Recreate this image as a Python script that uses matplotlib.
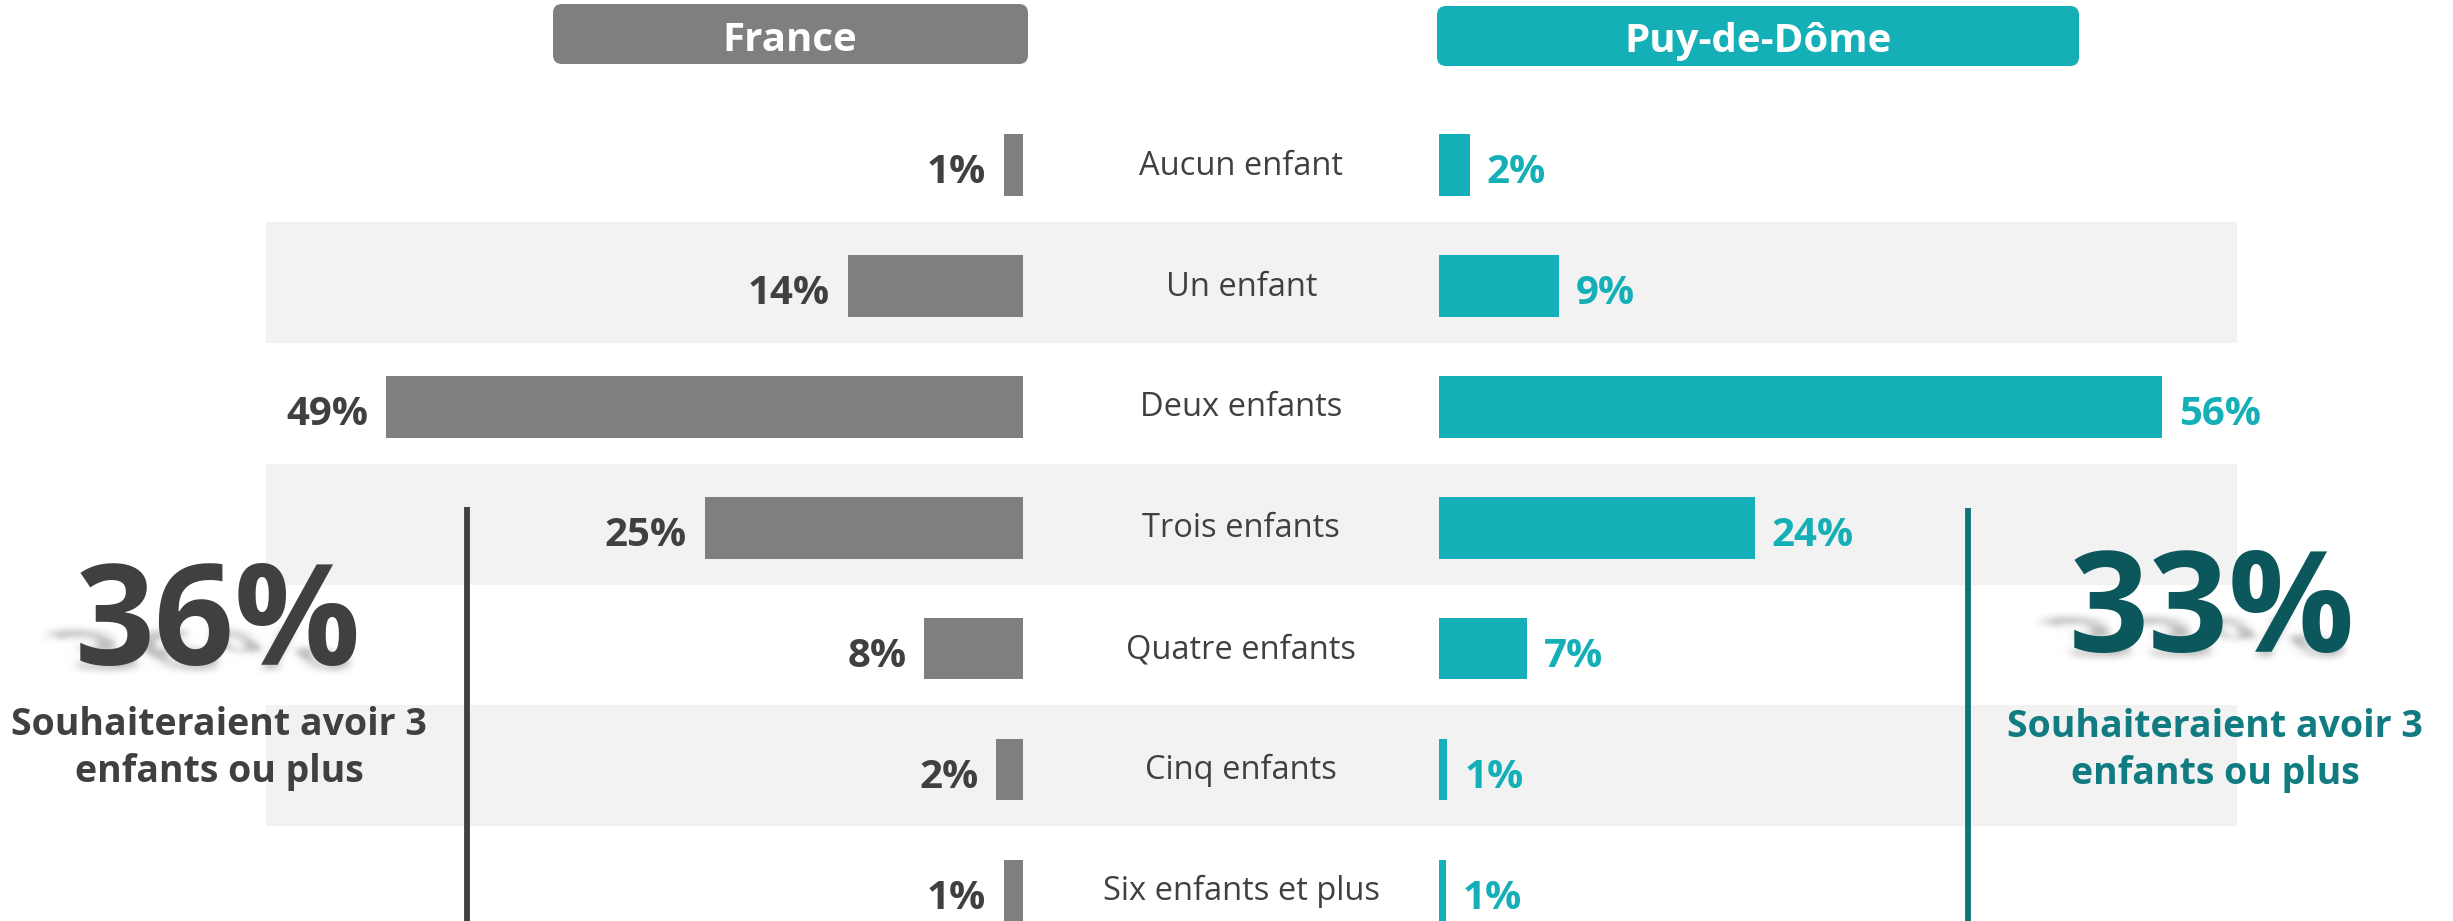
import matplotlib
matplotlib.use("Agg")
import matplotlib.pyplot as plt
import numpy as np
from matplotlib.patches import FancyBboxPatch, PathPatch
from matplotlib.textpath import TextPath
from matplotlib.font_manager import FontProperties
from matplotlib.transforms import Affine2D

plt.rcParams['font.family'] = ['Open Sans', 'DejaVu Sans']

# data
categories = ["Aucun enfant", "Un enfant", "Deux enfants", "Trois enfants",
              "Quatre enfants", "Cinq enfants", "Six enfants et plus"]
france = [1.5, 13.5, 49.0, 24.5, 7.6, 2.05, 1.5]
france_labels = ["1%", "14%", "49%", "25%", "8%", "2%", "1%"]
puy = [2.35, 9.2, 55.65, 24.3, 6.75, 0.65, 0.5]
puy_labels = ["2%", "9%", "56%", "24%", "7%", "1%", "1%"]
groups = ["France", "Puy-de-Dôme"]
totals = ["36%", "33%"]
total_lines = ["Souhaiteraient avoir 3", "enfants ou plus"]

GREY = '#7f7f7f'
DARK = '#404040'
TEAL = '#14afb7'
TEAL_DARK = '#0b575c'
TEAL_MID = '#107b80'
BAND = '#f2f2f2'

W, H = 2453, 921
PX = 13.0      # pixels per percent
ROW = 120.9    # pixels per row
MID = 1231     # centre of the chart in pixels
GAP = 16       # half gap between the two sides, in percent units
TOP = 165      # first row centre in pixels

fig = plt.figure(figsize=(W / 100, H / 100), dpi=100)
ax = fig.add_axes([0, 0, 1, 1])
ax.set_xlim(-MID / PX, (W - MID) / PX)
ax.set_ylim((H - TOP) / ROW, -TOP / ROW)
ax.axis('off')

y = np.arange(len(categories))
f = np.array(france)
p = np.array(puy)

# alternating bands
band_rows = y[1::2]
ax.barh(band_rows - 0.03, [(2237 - 266) / PX] * len(band_rows), left=(266 - MID) / PX,
        height=1.0, color=BAND, zorder=0)

ax.barh(y, -f, left=-GAP, height=0.51, color=GREY, zorder=2)
ax.barh(y, p, left=GAP, height=0.51, color=TEAL, zorder=2)

for i in y:
    ax.text(-GAP - f[i] - 1.35, i + 0.15, france_labels[i], ha='right', va='baseline',
            fontsize=29, fontweight='bold', color=DARK)
    ax.text(GAP + p[i] + 1.3, i + 0.15, puy_labels[i], ha='left', va='baseline',
            fontsize=29, fontweight='bold', color=TEAL)
    ax.text(0.8, i + 0.08, categories[i], ha='center', va='baseline',
            fontsize=23.5, color=DARK)

# overlay in pixel coordinates for headers and totals
ov = fig.add_axes([0, 0, 1, 1])
ov.set_xlim(0, W)
ov.set_ylim(H, 0)
ov.axis('off')
ov.patch.set_visible(False)

ov.add_patch(FancyBboxPatch((553, 4), 475, 60, boxstyle="round,pad=0,rounding_size=9",
                            fc=GREY, ec='none'))
ov.add_patch(FancyBboxPatch((1437, 6), 642, 60, boxstyle="round,pad=0,rounding_size=9",
                            fc=TEAL, ec='none'))
ov.text(790, 51, groups[0], ha='center', va='baseline', fontsize=29,
        fontweight='bold', color='white')
ov.text(1758, 52, groups[1], ha='center', va='baseline', fontsize=29,
        fontweight='bold', color='white')

ov.plot([467, 467], [507, H], color=DARK, lw=4.2, solid_capstyle='butt')
ov.plot([1968, 1968], [508, H], color='#0f7479', lw=4.2, solid_capstyle='butt')


def blur(img, dpi, sigma=4):
    pad = int(3 * sigma)
    xs = np.arange(-pad, pad + 1)
    k = np.exp(-xs ** 2 / (2 * sigma ** 2))
    k /= k.sum()
    out = np.pad(img, ((pad, pad), (pad, pad), (0, 0)))
    out = np.apply_along_axis(np.convolve, 0, out, k, mode='same')
    out = np.apply_along_axis(np.convolve, 1, out, k, mode='same')
    return out, -pad, -pad


def shadow(cx, base, txt, size):
    tp = TextPath((0, 0), txt, size=size * 100 / 72,
                  prop=FontProperties(family='Open Sans', weight='bold'))
    bb = tp.get_extents()
    tr = (Affine2D().translate(-(bb.x0 + bb.x1) / 2, 0).scale(1, 0.34)
          .skew_deg(-48, 0).translate(cx, H - base))
    sh = PathPatch(tp, transform=tr, fc='#7f7f7f', ec='none', alpha=0.55, zorder=1)
    sh.set_agg_filter(blur)
    ov.add_artist(sh)


BIG = 101
shadow(218, 667, totals[0], BIG)
shadow(2212, 654, totals[1], BIG)
ov.text(218, 665, totals[0], ha='center', va='baseline', fontsize=BIG,
        fontweight='bold', color=DARK, zorder=3)
ov.text(2212, 652, totals[1], ha='center', va='baseline', fontsize=BIG,
        fontweight='bold', color=TEAL_DARK, zorder=3)

ov.text(219, 735, total_lines[0], ha='center', va='baseline', fontsize=27,
        fontweight='bold', color=DARK, zorder=3)
ov.text(219, 782, total_lines[1], ha='center', va='baseline', fontsize=27,
        fontweight='bold', color=DARK, zorder=3)
ov.text(2215, 737, total_lines[0], ha='center', va='baseline', fontsize=27,
        fontweight='bold', color=TEAL_MID, zorder=3)
ov.text(2215, 784, total_lines[1], ha='center', va='baseline', fontsize=27,
        fontweight='bold', color=TEAL_MID, zorder=3)

fig.savefig('out.png', dpi=100, facecolor='white')
